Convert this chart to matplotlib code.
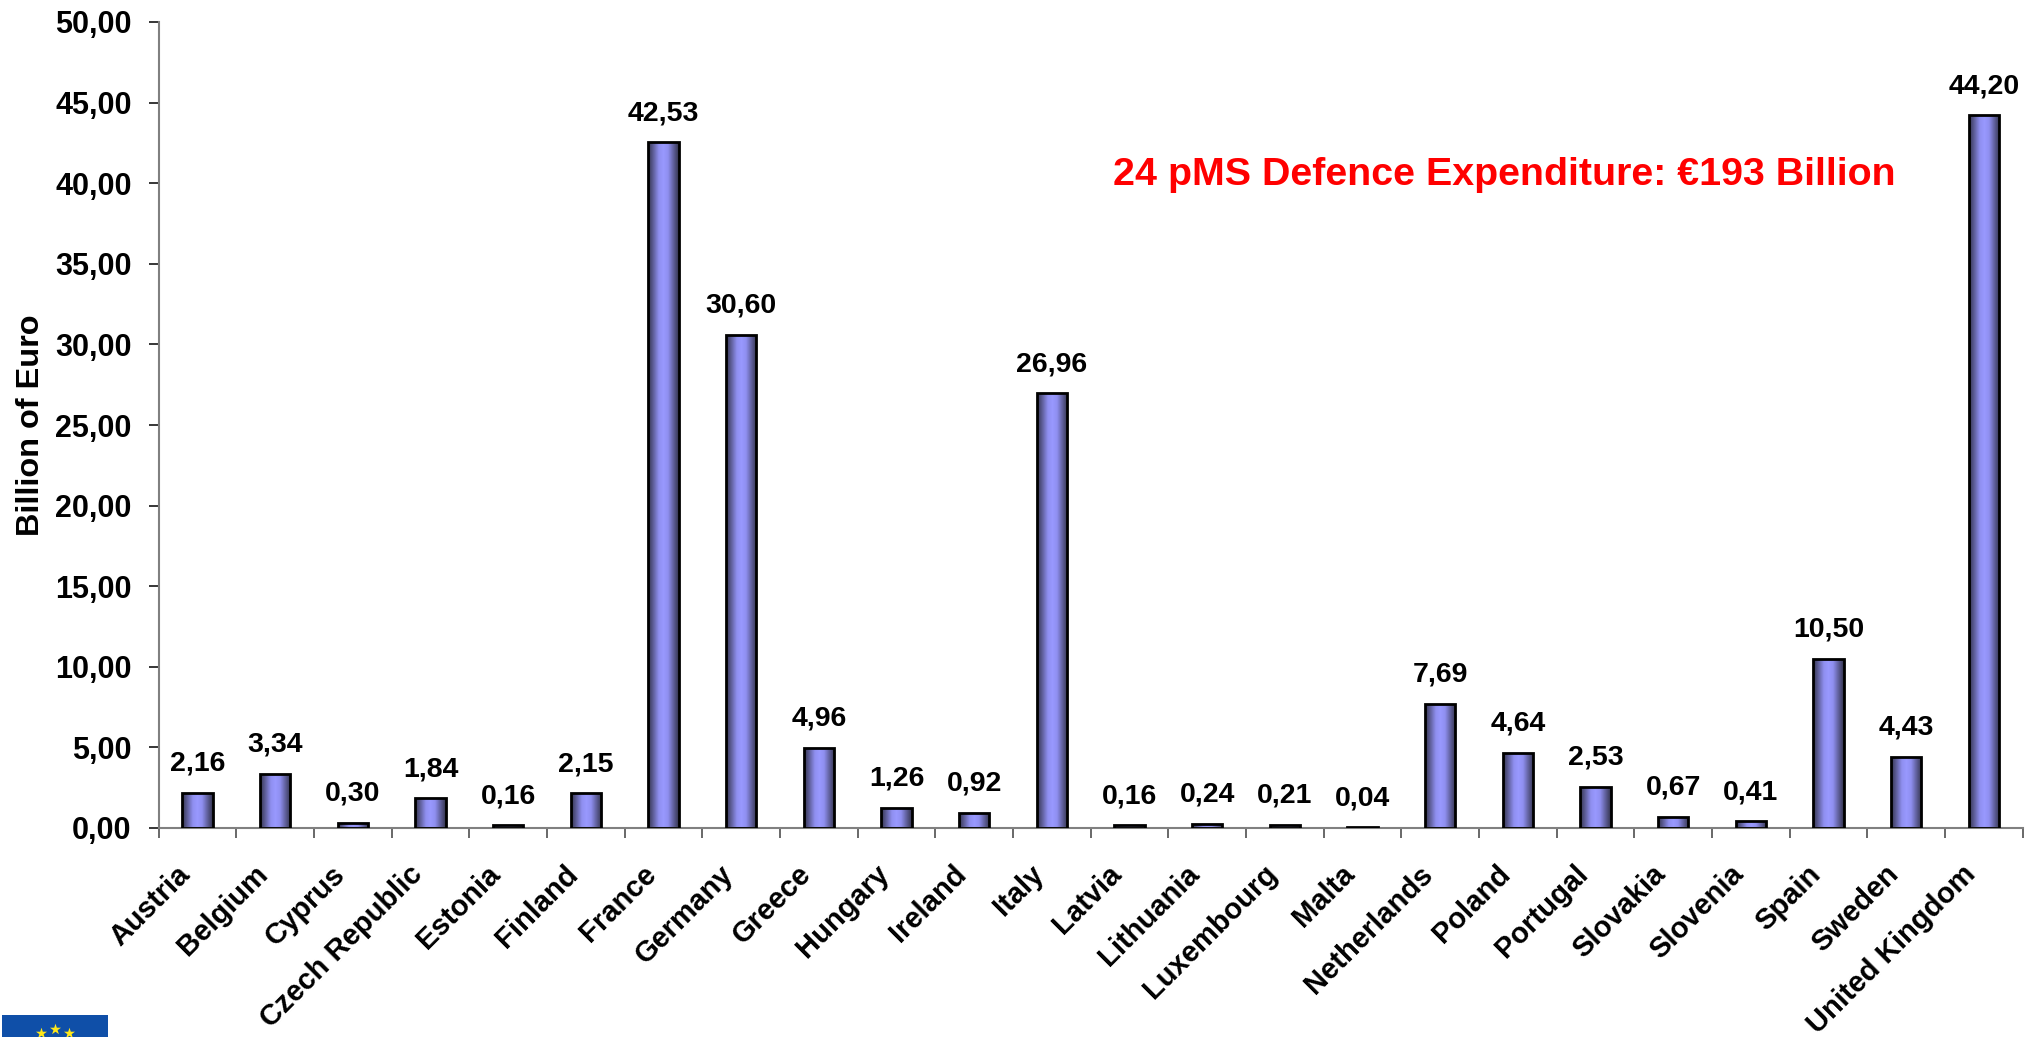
import numpy as np
import matplotlib
matplotlib.use('Agg')
import matplotlib.pyplot as plt
from matplotlib.colors import LinearSegmentedColormap
from matplotlib.ticker import MultipleLocator, FuncFormatter
from matplotlib.transforms import ScaledTranslation

countries = ['Austria', 'Belgium', 'Cyprus', 'Czech Republic', 'Estonia', 'Finland',
             'France', 'Germany', 'Greece', 'Hungary', 'Ireland', 'Italy', 'Latvia',
             'Lithuania', 'Luxembourg', 'Malta', 'Netherlands', 'Poland', 'Portugal',
             'Slovakia', 'Slovenia', 'Spain', 'Sweden', 'United Kingdom']
spending = [2.16, 3.34, 0.30, 1.84, 0.16, 2.15, 42.53, 30.60, 4.96, 1.26, 0.92, 26.96,
            0.16, 0.24, 0.21, 0.04, 7.69, 4.64, 2.53, 0.67, 0.41, 10.50, 4.43, 44.20]

W, H = 2042, 1037
plt.rcParams['font.family'] = ['Liberation Sans', 'DejaVu Sans']
plt.rcParams['font.weight'] = 'bold'


def comma(v, pos=None):
    return f'{v:.2f}'.replace('.', ',')


fig = plt.figure(figsize=(W / 100, H / 100), dpi=100, facecolor='white')
ax = fig.add_axes([158.7 / W, 1 - 828 / H, 1864 / W, (828 - 22) / H])

x = np.arange(len(countries))
bars = ax.bar(x, spending, width=0.39, facecolor='none', edgecolor='black',
              linewidth=2.0, zorder=3)

# horizontal shading inside each bar
shade = LinearSegmentedColormap.from_list(
    'shade', [(0, '#34344e'), (0.35, '#8f8ff0'), (0.5, '#9999ff'),
              (0.65, '#8f8ff0'), (1, '#34344e')])
grad = np.linspace(0, 1, 64).reshape(1, -1)
for b in bars:
    im = ax.imshow(grad, cmap=shade, aspect='auto', zorder=2,
                   extent=(b.get_x(), b.get_x() + b.get_width(), 0, b.get_height()))
    im.set_clip_path(b)

for xi, v in zip(x, spending):
    ax.annotate(comma(v), (xi, v), xytext=(0, 16), textcoords='offset points',
                ha='center', va='baseline', fontsize=20.5, fontweight='bold')

ax.set_xlim(-0.5, len(countries) - 0.5)
ax.set_ylim(0, 50)
ax.yaxis.set_major_locator(MultipleLocator(5))
ax.yaxis.set_major_formatter(FuncFormatter(comma))
ax.tick_params(axis='y', length=7.5, width=1.1, labelsize=22, pad=12)

# ticks sit between the categories, labels under the bars
ax.set_xticks(np.arange(len(countries) + 1) - 0.5)
ax.set_xticklabels([])
ax.tick_params(axis='x', which='major', length=7.5, width=1.1, color='#404040')
ax.set_xticks(x, minor=True)
ax.set_xticklabels(countries, minor=True, rotation=45, ha='right', va='top',
                   rotation_mode='anchor', fontsize=21, fontweight='bold')
ax.tick_params(axis='x', which='minor', length=0, pad=23)
shift = ScaledTranslation(-22 / 100, 0, fig.dpi_scale_trans)
for lab in ax.get_xticklabels(minor=True):
    lab.set_transform(lab.get_transform() + shift)

for s in ['top', 'right']:
    ax.spines[s].set_visible(False)
for s in ['left', 'bottom']:
    ax.spines[s].set_color('#808080')
    ax.spines[s].set_linewidth(1.5)

fig.text(31 / W, 1 - 425 / H, 'Billion of Euro', rotation=90, ha='center', va='center',
         fontsize=23.4, fontweight='bold')
fig.text(1504 / W, 1 - 175 / H, '24 pMS Defence Expenditure: €193 Billion', color='#ff0000',
         ha='center', va='center', fontsize=28.4, fontweight='bold')

# EU flag, cut off by the bottom of the slide
logo = fig.add_axes([2 / W, 1 - (1015 + 84) / H, 106 / W, 84 / H], facecolor='#0f4fa8')
logo.set_xlim(-53, 53)
logo.set_ylim(-42, 42)
logo.set_xticks([])
logo.set_yticks([])
for s in logo.spines.values():
    s.set_visible(False)
ang = np.deg2rad(np.arange(0, 360, 30))
logo.scatter(28 * np.cos(ang), 28 * np.sin(ang), marker='*', s=70, color='#ffe81a', linewidths=0)

fig.savefig('out.png', dpi=100)
